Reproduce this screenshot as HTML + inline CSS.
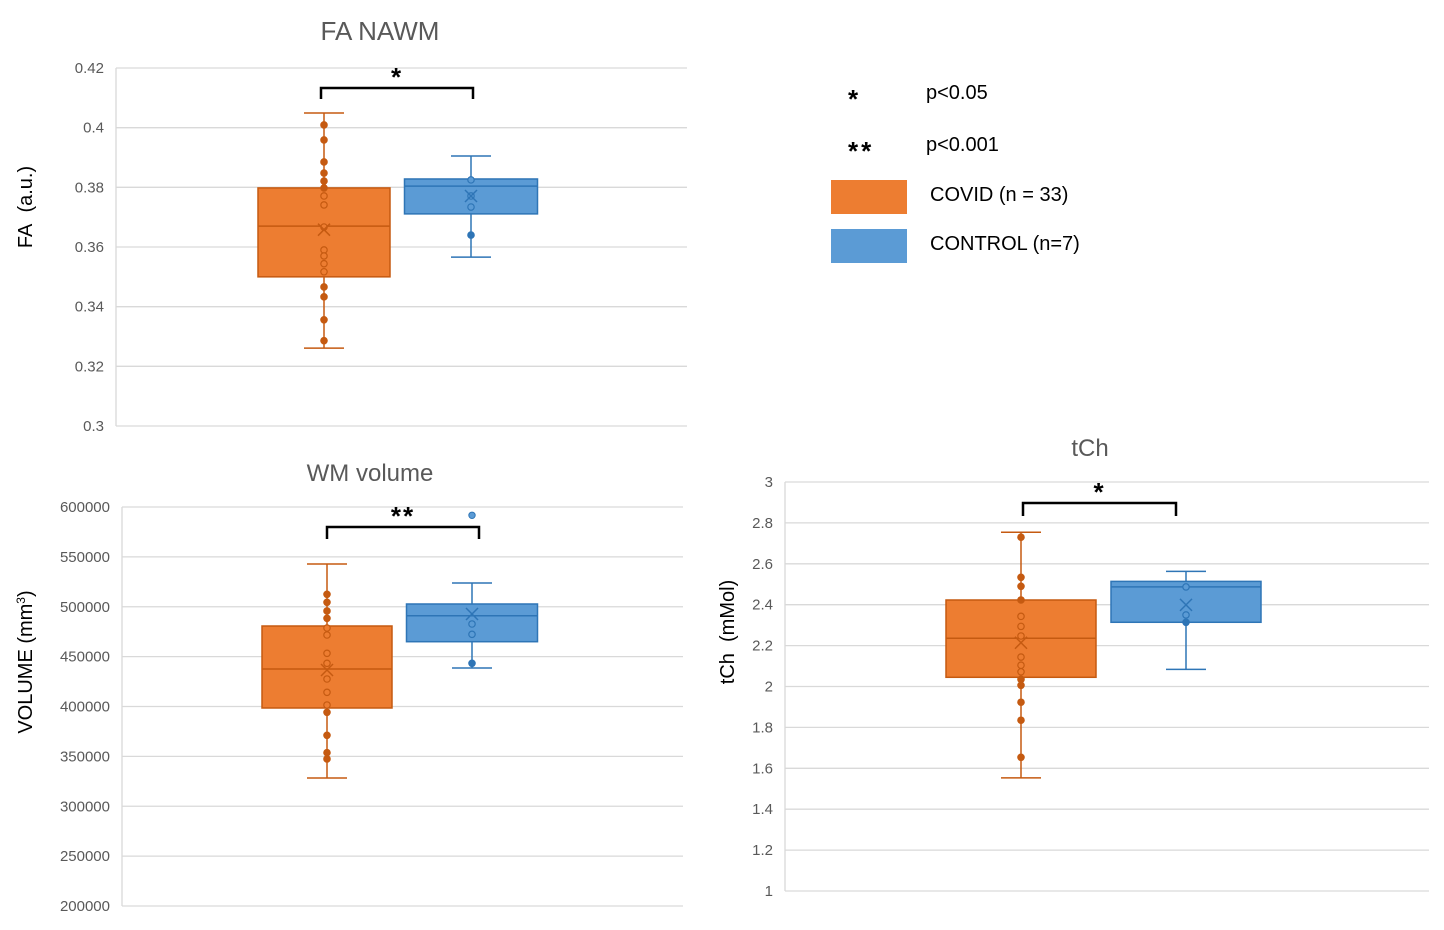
<!DOCTYPE html>
<html><head><meta charset="utf-8">
<style>
html,body{margin:0;padding:0;background:#fff;}
svg{display:block;font-family:"Liberation Sans","DejaVu Sans",sans-serif;}
</style></head>
<body>
<svg id="root" width="1444" height="930" viewBox="0 0 1444 930"></svg>
<script>
// ---- Chart 1: FA NAWM ----
const faTicks = [0.3,0.32,0.34,0.36,0.38,0.4,0.42];
const faTickLabels = ["0.3","0.32","0.34","0.36","0.38","0.4","0.42"];
const faCovidStats = [0.3261,0.350,0.367,0.3798,0.4049]; // min,q1,median,q3,max
const faCovidMean = [0.3658];
const faCovidPoints = [0.4009,0.3959,0.3885,0.3848,0.3821,0.3798,0.3771,0.3741,0.3667,0.3590,0.3570,0.3544,0.3517,0.3466,0.3433,0.3356,0.3286];
const faControlStats = [0.3566,0.3711,0.3804,0.3828,0.3905];
const faControlMean = [0.3771];
const faControlPoints = [0.3825,0.3771,0.3734,0.3640];
const faOutliers = [];

// ---- Chart 2: WM volume ----
const wmTicks = [200000,250000,300000,350000,400000,450000,500000,550000,600000];
const wmTickLabels = ["200000","250000","300000","350000","400000","450000","500000","550000","600000"];
const wmCovidStats = [328300,398500,437600,480700,542900];
const wmCovidMean = [436600];
const wmCovidPoints = [512480,504460,495740,488420,478700,471680,453330,443310,427570,414240,401510,394190,371130,353680,347370];
const wmControlStats = [438590,464960,491030,502760,523810];
const wmControlMean = [492730];
const wmControlPoints = [482710,472380,443310];
const wmControlOutliers = [591680];

// ---- Chart 3: tCh ----
const tchTicks = [1,1.2,1.4,1.6,1.8,2,2.2,2.4,2.6,2.8,3];
const tchTickLabels = ["1","1.2","1.4","1.6","1.8","2","2.2","2.4","2.6","2.8","3"];
const tchCovidStats = [1.553,2.045,2.236,2.423,2.754];
const tchCovidMean = [2.214];
const tchCovidPoints = [2.730,2.534,2.490,2.423,2.343,2.294,2.247,2.144,2.104,2.072,2.035,2.006,1.923,1.835,1.654];
const tchControlStats = [2.084,2.314,2.487,2.514,2.563];
const tchControlMean = [2.399];
const tchControlPoints = [2.487,2.350,2.314];

const NS="http://www.w3.org/2000/svg";
const root=document.getElementById('root');
const OR="#ed7d31", ORD="#c55a11", BL="#5b9bd5", BLD="#2e75b6", TXT="#595959";
function mk(tag,attrs,parent){const e=document.createElementNS(NS,tag);for(const k in attrs)e.setAttribute(k,attrs[k]);(parent||root).appendChild(e);return e;}

function chart(cfg){
  const g=mk('g',{});
  
  
  const lo=cfg.ticks[0], hi=cfg.ticks[cfg.ticks.length-1];
  const y=v=>cfg.y1-(v-lo)/(hi-lo)*(cfg.y1-cfg.y0);
  cfg.ticks.forEach((t,i)=>{
    const ln=mk('line',{x1:cfg.x0,x2:cfg.x1,y1:y(t),y2:y(t),stroke:'#d9d9d9','stroke-width':1.3},g);
    
    
    const tx=mk('text',{x:cfg.x0-12,y:y(t)+5,'text-anchor':'end','font-size':15,fill:TXT},g);
    tx.textContent=cfg.labels[i];
    
    
  });
  const ax=mk('line',{x1:cfg.x0,x2:cfg.x0,y1:cfg.y0,y2:cfg.y1,stroke:'#d9d9d9','stroke-width':1.3},g);
  
  
  const ti=mk('text',{x:cfg.tx,y:cfg.ty,'text-anchor':'middle','font-size':cfg.tsize,fill:TXT},g);
  ti.textContent=cfg.title;
  
  
  const yt=mk('text',{x:0,y:0,'text-anchor':'middle','font-size':20,fill:'#000',transform:`translate(${cfg.ytx},${cfg.yty}) rotate(-90)`},g);
  yt.innerHTML=cfg.ytitle;
  
  
  cfg.boxes.forEach(b=>{
    const s=b.stats, cx=b.cx, hw=b.w/2;
    const bg=mk('g',{},g);
    
    
    mk('line',{x1:cx,x2:cx,y1:y(s[0]),y2:y(s[4]),stroke:b.dark,'stroke-width':1.5},bg);
    mk('line',{x1:cx-20,x2:cx+20,y1:y(s[0]),y2:y(s[0]),stroke:b.dark,'stroke-width':1.5},bg);
    mk('line',{x1:cx-20,x2:cx+20,y1:y(s[4]),y2:y(s[4]),stroke:b.dark,'stroke-width':1.5},bg);
    mk('rect',{x:cx-hw,y:y(s[3]),width:b.w,height:y(s[1])-y(s[3]),fill:b.fill,stroke:b.dark,'stroke-width':1.5},bg);
    mk('line',{x1:cx-hw,x2:cx+hw,y1:y(s[2]),y2:y(s[2]),stroke:b.dark,'stroke-width':1.5},bg);
    b.points.forEach(p=>{
      const inside=p>s[1]+1e-9&&p<s[3]-1e-9;
      const c=mk('circle',{cx:cx,cy:y(p),r:3.2,fill:inside?b.fill:b.dark,stroke:b.dark,'stroke-width':1.2},bg);
      
      
    });
    (b.outliers||[]).forEach(p=>{
      const c=mk('circle',{cx:cx,cy:y(p),r:3.2,fill:b.fill,stroke:b.dark,'stroke-width':1},bg);
      
      
    });
    b.mean.forEach(m=>{
      const my=y(m);
      const mx=mk('path',{d:`M${cx-6} ${my-6}L${cx+6} ${my+6}M${cx+6} ${my-6}L${cx-6} ${my+6}`,stroke:b.dark,'stroke-width':1.5,fill:'none'},bg);
      
      
    });
  });
  const br=cfg.bracket;
  const bp=mk('path',{d:`M${br.xa} ${br.yb}V${br.yt}H${br.xb}V${br.yb}`,stroke:'#000','stroke-width':2.5,fill:'none'},g);
  
  
  const st=mk('text',{x:(br.xa+br.xb)/2,y:br.yt-2,'text-anchor':'middle','font-size':26,'font-weight':'bold',fill:'#000','letter-spacing':2},g);
  st.textContent=br.star;
  
  
}

chart({name:'fa-nawm-chart',ticks:faTicks,labels:faTickLabels,x0:116,x1:687,y0:68,y1:426,
  title:'FA NAWM',tx:380,ty:40,tsize:26,ytitle:'FA&#160;&#160;(a.u.)',ytx:32,yty:207,
  boxes:[{name:'covid-box',cx:324,w:132,stats:faCovidStats,mean:faCovidMean,points:faCovidPoints,fill:OR,dark:ORD},
         {name:'control-box',cx:471,w:133,stats:faControlStats,mean:faControlMean,points:faControlPoints,outliers:faOutliers,fill:BL,dark:BLD}],
  bracket:{xa:321,xb:473,yt:88,yb:99,star:'*'}});
chart({name:'wm-volume-chart',ticks:wmTicks,labels:wmTickLabels,x0:122,x1:683,y0:507,y1:906,
  title:'WM volume',tx:370,ty:481,tsize:24,ytitle:'VOLUME (mm<tspan dy="-7" font-size="12">3</tspan><tspan dy="7">)</tspan>',ytx:32,yty:662,
  boxes:[{name:'covid-box',cx:327,w:130,stats:wmCovidStats,mean:wmCovidMean,points:wmCovidPoints,fill:OR,dark:ORD},
         {name:'control-box',cx:472,w:131,stats:wmControlStats,mean:wmControlMean,points:wmControlPoints,outliers:wmControlOutliers,fill:BL,dark:BLD}],
  bracket:{xa:327,xb:479,yt:527,yb:539,star:'**'}});
chart({name:'tch-chart',ticks:tchTicks,labels:tchTickLabels,x0:785,x1:1429,y0:482,y1:891,
  title:'tCh',tx:1090,ty:456,tsize:24,ytitle:'tCh&#160;&#160;(mMol)',ytx:734,yty:632,
  boxes:[{name:'covid-box',cx:1021,w:150,stats:tchCovidStats,mean:tchCovidMean,points:tchCovidPoints,fill:OR,dark:ORD},
         {name:'control-box',cx:1186,w:150,stats:tchControlStats,mean:tchControlMean,points:tchControlPoints,fill:BL,dark:BLD}],
  bracket:{xa:1023,xb:1176,yt:503,yb:516,star:'*'}});

// legend
const lg=mk('g',{});


const legendRows=[{sym:'*',label:'p<0.05',y:100},{sym:'**',label:'p<0.001',y:152}];
legendRows.forEach(r=>{
  const s=mk('text',{x:848,y:r.y+8,'font-size':26,'font-weight':'bold',fill:'#000','letter-spacing':3},lg);
  s.textContent=r.sym;
  
  
  const t=mk('text',{x:926,y:r.y-1,'font-size':20,fill:'#000'},lg);
  t.textContent=r.label;
  
  
});
const swatches=[{c:OR,label:'COVID (n = 33)',y:180},{c:BL,label:'CONTROL (n=7)',y:229}];
swatches.forEach(s=>{
  const r=mk('rect',{x:831,y:s.y,width:76,height:34,fill:s.c},lg);
  
  
  const t=mk('text',{x:930,y:s.y+21,'font-size':20,fill:'#000'},lg);
  t.textContent=s.label;
  
  
});
</script>
</body></html>
